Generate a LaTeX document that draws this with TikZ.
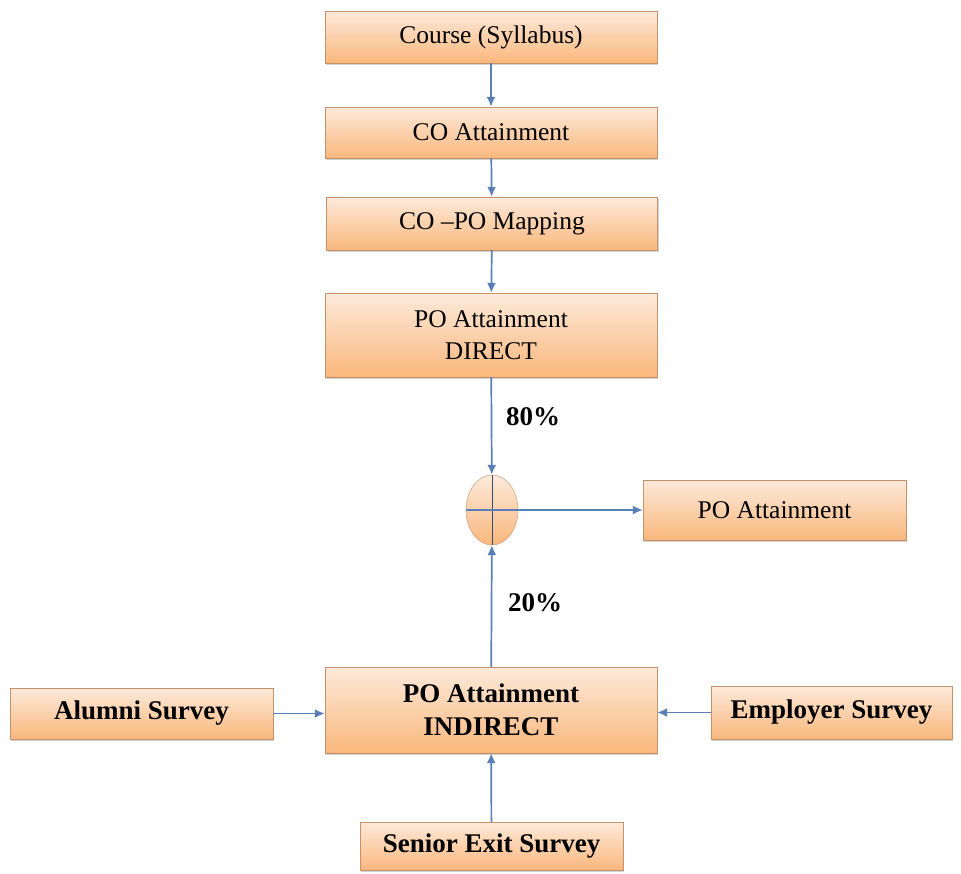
\documentclass[tikz,border=0pt]{standalone}
\usepackage{fontspec}
\setmainfont{Liberation Serif}
\usetikzlibrary{shapes.geometric}
\usetikzlibrary{arrows.meta}
\usetikzlibrary{shadows}
\definecolor{boxtop}{HTML}{FDEADB}
\definecolor{boxbot}{HTML}{F9B77C}
\definecolor{boxline}{HTML}{C4926A}
\definecolor{flow}{HTML}{5A7FB6}
\tikzset{
  box/.style={draw=boxline, top color=boxtop, bottom color=boxbot, inner sep=0pt,
    align=center, font=\fontsize{25.5}{32}\selectfont,
    drop shadow={shadow xshift=1pt, shadow yshift=-2pt, opacity=.35}},
  survey/.style={box, font=\fontsize{27}{33}\selectfont\bfseries},
  flowline/.style={draw=flow, line width=1.7pt, -{Latex[length=10pt,width=9pt]}},
  pct/.style={font=\fontsize{27}{29}\selectfont\bfseries}
}

\begin{document}
\begin{tikzpicture}[x=1pt, y=-1pt]
      \useasboundingbox (0,0) rectangle (961,873);
      \node[box, minimum width=332pt, minimum height=52pt] (course) at (491,37) {Course (Syllabus)};
      \node[box, minimum width=332pt, minimum height=51pt] (coatt) at (491,132.5) {CO Attainment};
      \node[box, minimum width=331pt, minimum height=53pt] (copo) at (492,223.5) {CO --PO Mapping};
      \node[box, minimum width=332pt, minimum height=84pt] (direct) at (491,335) {PO Attainment\\DIRECT};
      \node[draw=boxline, ellipse, top color=boxtop, bottom color=boxbot, inner sep=0pt,
        minimum width=52pt, minimum height=70pt] (sum) at (492,510) {};
      \node[box, minimum width=263pt, minimum height=60pt] (po) at (774.5,510) {PO Attainment};
      \node[survey, minimum width=332pt, minimum height=86pt] (indirect) at (491,710) {PO Attainment\\INDIRECT};
      \node[survey, minimum width=263pt, minimum height=51pt] (alumni) at (141.5,713.5) {Alumni Survey};
      \node[survey, minimum width=241pt, minimum height=53pt] (employer) at (831.5,712.5) {Employer Survey};
      \node[survey, minimum width=263pt, minimum height=48pt] (senior) at (491.5,846) {Senior Exit Survey};
      \node[pct] (p80) at (533,417) {80\%};
      \node[pct] (p20) at (535,603) {20\%};
      \draw[flow!60!black, line width=1pt] (sum.north) -- (sum.south) (sum.west) -- (sum.east);
      \draw[flowline] (course) -- (coatt);
      \draw[flowline] (coatt) -- (copo);
      \draw[flowline] (copo) -- (direct);
      \draw[flowline] (direct) -- (sum);
      \draw[flowline] (indirect) -- (sum);
      \draw[flowline] (sum.west) -- (po.west);
      \draw[flowline] (senior) -- (indirect);
      \draw[flowline] (alumni.east) -- (alumni.east -| indirect.west);
      \draw[flowline] (employer.west) -- (employer.west -| indirect.east);
    \end{tikzpicture}
\end{document}
